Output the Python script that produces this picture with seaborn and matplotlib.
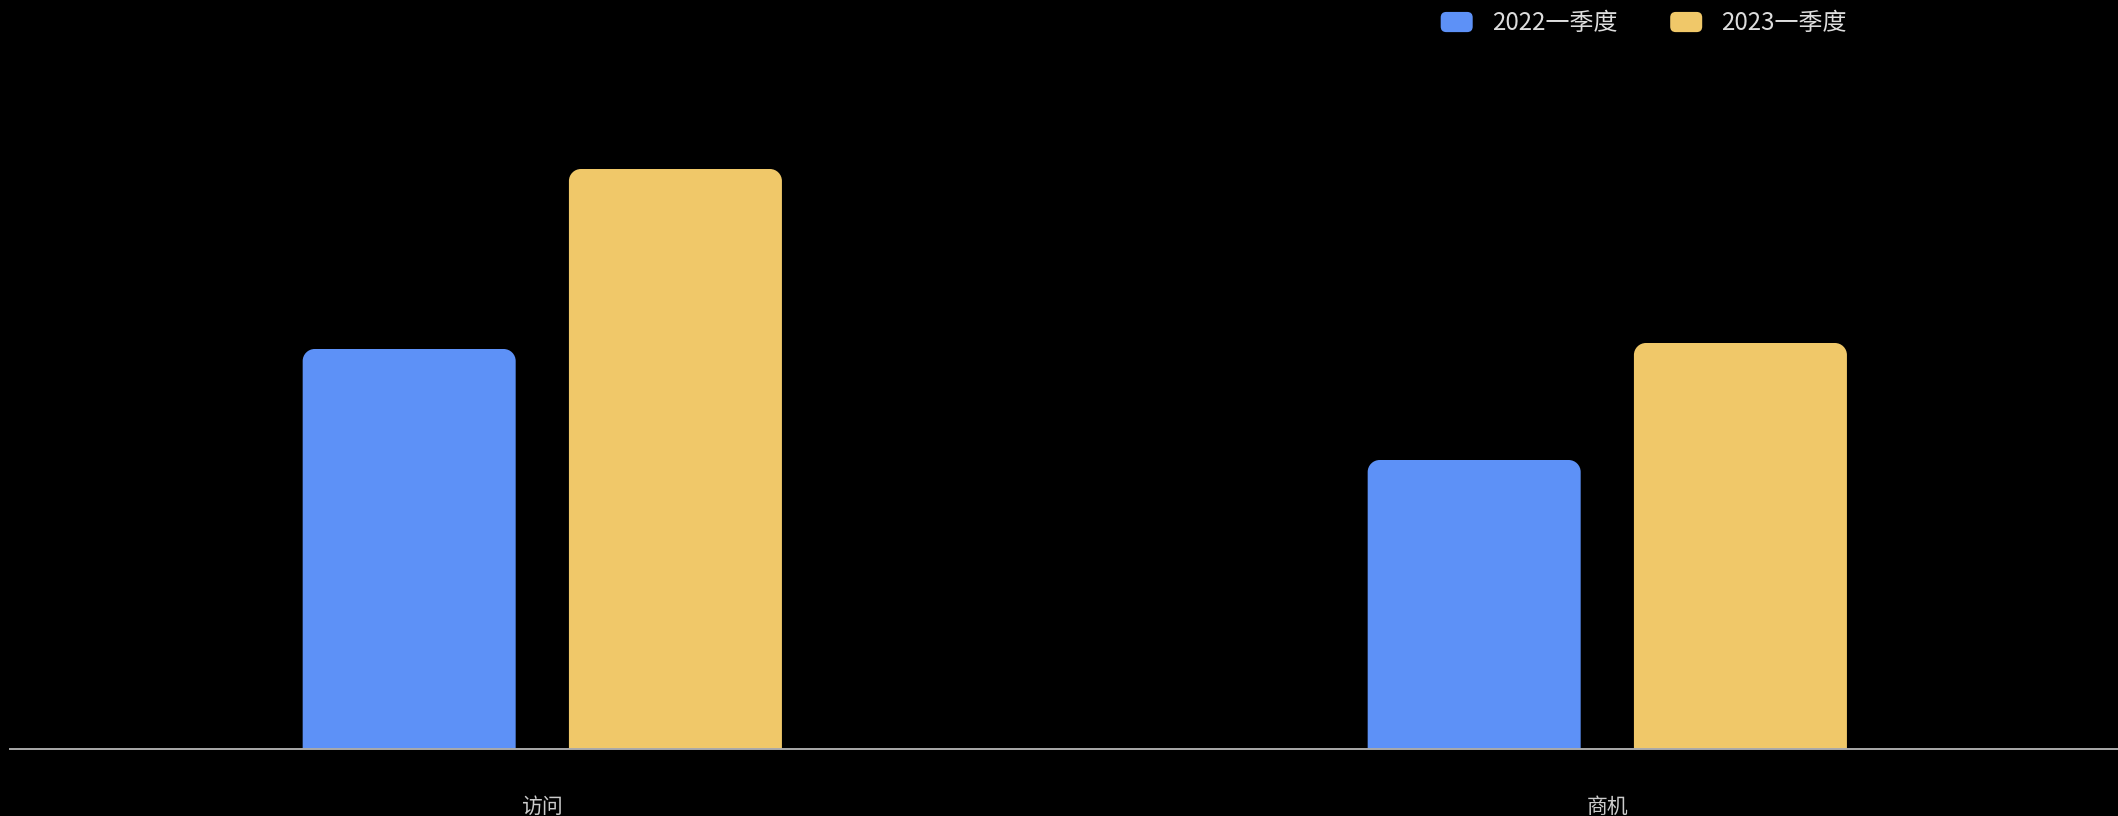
import numpy as np
import pandas as pd
import matplotlib
matplotlib.use("Agg")
import matplotlib.pyplot as plt
import seaborn as sns
from matplotlib.path import Path
from matplotlib.patches import PathPatch, FancyBboxPatch
from matplotlib.legend_handler import HandlerPatch

# ---- data ----
categories = ["访问", "商机"]
periods = ["2022一季度", "2023一季度"]
values_2022 = [400, 289]
values_2023 = [580, 406]
colors = ["#5D91F7", "#F0C869"]

df = pd.DataFrame({
    "category": categories * 2,
    "period": [periods[0]] * len(categories) + [periods[1]] * len(categories),
    "value": values_2022 + values_2023,
})

sns.set_theme(style="white")
plt.rcParams["font.family"] = ["Noto Sans CJK SC", "DejaVu Sans"]

W, H, DPI = 2118, 816, 100
fig = plt.figure(figsize=(W / DPI, H / DPI), dpi=DPI, facecolor="black")
ax = fig.add_axes([9.8 / W, 67 / H, 2130 / W, 749 / H])
ax.set_facecolor("black")

sns.barplot(data=df, x="category", y="value", hue="period", order=categories,
            hue_order=periods, palette=colors, width=0.5, gap=0.2,
            saturation=1, ax=ax, legend=False)

ax.set_xlim(-0.5, 1.5)
ax.set_ylim(0, 749)

# round top corners of bars
fig.canvas.draw()
p0 = ax.transData.transform((0, 0))
p1 = ax.transData.transform((1, 1))
px_x = p1[0] - p0[0]
px_y = p1[1] - p0[1]
r_px = 12
rx, ry = r_px / px_x, r_px / px_y
k = 0.5523
for rect in list(ax.patches):
    x, y = rect.get_x(), rect.get_y()
    w, h = rect.get_width(), rect.get_height()
    fc = rect.get_facecolor()
    top = y + h
    verts = [
        (x, y), (x, top - ry),
        (x, top - ry + k * ry), (x + rx - k * rx, top), (x + rx, top),
        (x + w - rx, top),
        (x + w - rx + k * rx, top), (x + w, top - ry + k * ry), (x + w, top - ry),
        (x + w, y), (x, y),
    ]
    codes = [Path.MOVETO, Path.LINETO,
             Path.CURVE4, Path.CURVE4, Path.CURVE4,
             Path.LINETO,
             Path.CURVE4, Path.CURVE4, Path.CURVE4,
             Path.LINETO, Path.CLOSEPOLY]
    ax.add_patch(PathPatch(Path(verts, codes), facecolor=fc, edgecolor="none", zorder=2))
    rect.remove()

# axes styling
for s in ["top", "right", "left"]:
    ax.spines[s].set_visible(False)
ax.spines["bottom"].set_color("#aaaaaa")
ax.spines["bottom"].set_linewidth(1.4)
ax.spines["bottom"].set_zorder(3)
ax.set_yticks([])
ax.set_xlabel("")
ax.set_ylabel("")
ax.tick_params(axis="x", length=0, pad=34, labelsize=15, labelcolor="#cccccc")


class RoundHandler(HandlerPatch):
    def create_artists(self, legend, orig_handle, xdescent, ydescent, width,
                       height, fontsize, trans):
        p = FancyBboxPatch((-xdescent, -ydescent), width, height,
                           boxstyle="round,pad=0,rounding_size=4",
                           facecolor=orig_handle.get_facecolor(),
                           edgecolor="none", transform=trans)
        return [p]


handles = [FancyBboxPatch((0, 0), 1, 1, facecolor=c) for c in colors]
fs = 17.3
em = fs * DPI / 72
leg = fig.legend(handles, periods, loc="center left",
                 bbox_to_anchor=(1440.7 / W, 1 - 23.3 / H), ncol=2,
                 frameon=False, fontsize=fs, handlelength=32 / em,
                 handleheight=22 / em, handletextpad=19 / em,
                 columnspacing=53 / em, borderpad=0, borderaxespad=0,
                 handler_map={FancyBboxPatch: RoundHandler()})
for t in leg.get_texts():
    t.set_color("#dddddd")

fig.savefig("out.png", dpi=DPI, facecolor="black")
